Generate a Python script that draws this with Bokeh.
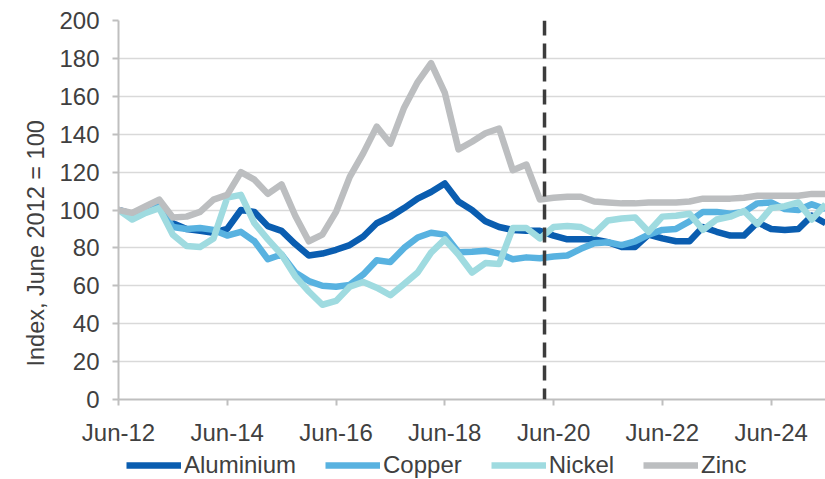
import pandas as pd
from bokeh.plotting import figure
from bokeh.layouts import column
from bokeh.models import (Range1d, Span, Legend, LegendItem, FixedTicker, Title,
                          SingleIntervalTicker, DatetimeTickFormatter, ColumnDataSource)
from bokeh.embed import file_html
from bokeh.resources import INLINE

# Quarterly observations, Jun-2012 to Jun-2025 (index, June 2012 = 100)
quarters = pd.date_range("2012-06-01", periods=53, freq="3MS")

aluminium = [100, 98, 100, 102, 93, 90, 89, 88, 90, 100,
             99, 91.5, 89, 82, 76, 77, 79, 81.5, 86, 93,
             96.5, 101, 106, 109.5, 114, 104.5, 100, 94, 91, 89.5,
             89, 89, 86.5, 84.5, 84.5, 84.5, 83, 80.5, 80.5, 87,
             85, 83.5, 83.5, 91, 88.5, 86.5, 86.5, 93.5, 90, 89.5,
             90, 97, 93]

copper = [100, 97.5, 100, 102, 91, 90, 90.5, 89.5, 86.5, 88.5,
          83.5, 74, 76.5, 67, 62.5, 60, 59.5, 60.5, 66, 73.5,
          72.5, 80, 85.5, 88, 87, 77.7, 78, 78.5, 77, 74,
          75, 74.5, 75.5, 76, 79.5, 82.5, 83, 81.5, 83.5, 87,
          89.5, 90, 94, 99, 99, 98, 99, 103.5, 104, 100.5,
          100, 103, 100.5]

nickel = [100, 95, 98.5, 101, 87, 81, 80.5, 85, 106.5, 108,
          93, 84.5, 76.5, 65, 57, 50, 52, 59.5, 62, 59,
          55, 61, 67, 77.5, 84.5, 76.5, 67, 72, 71.5, 90.5,
          90.5, 85, 91, 91.5, 91, 87.5, 94.5, 95.5, 96, 88.5,
          96.5, 97, 98, 89.5, 95, 96.5, 99.5, 92.5, 101, 102,
          104, 95, 103]

zinc = [100, 98.5, 102, 105.5, 96, 96.5, 99, 105.5, 108, 120,
        116, 108.5, 113.5, 97, 83.5, 87, 99, 117.5, 130, 144,
        135, 154, 167.5, 177.5, 162, 132, 136, 140.5, 143, 121,
        124, 105.5, 106.5, 107, 107, 104.5, 104, 103.5, 103.5, 104,
        104, 104, 104.5, 106, 106, 106, 106.5, 107.5, 107.5, 107.5,
        107.5, 108.5, 108.5]

series_names = ["Aluminium", "Copper", "Nickel", "Zinc"]
series_colors = ["#0A5DB0", "#58B2E0", "#9FDBE0", "#BCBEC0"]
tick_dates = ["2012-06-01", "2014-06-01", "2016-06-01", "2018-06-01",
              "2020-06-01", "2022-06-01", "2024-06-01"]
forecast_start = "2020-04-01"
y_title = "Index, June 2012 = 100"

FONT = "Liberation Sans"
TEXT = "#404040"
LINE_W = 6.5

source = ColumnDataSource(dict(date=quarters, Aluminium=aluminium, Copper=copper,
                               Nickel=nickel, Zinc=zinc))

p = figure(width=825, height=448, x_axis_type="datetime",
           x_range=Range1d(pd.Timestamp("2012-06-01"), pd.Timestamp("2025-06-01")),
           y_range=Range1d(0, 200),
           output_backend="svg", toolbar_location=None,
           min_border_left=118, min_border_right=0, min_border_top=20,
           min_border_bottom=47)
p.outline_line_color = None
p.background_fill_color = "white"

# axes
p.xaxis.ticker = FixedTicker(ticks=[pd.Timestamp(d).value / 1e6 for d in tick_dates])
p.xaxis.formatter = DatetimeTickFormatter(days="%b-%y", months="%b-%y", years="%b-%y")
p.yaxis.ticker = SingleIntervalTicker(interval=20)
for ax in (p.xaxis[0], p.yaxis[0]):
    ax.axis_line_color = "#BFBFBF"
    ax.axis_line_width = 2
    ax.major_tick_line_color = "#BFBFBF"
    ax.major_tick_line_width = 2
    ax.major_tick_out = 6
    ax.major_tick_in = 0
    ax.minor_tick_line_color = None
    ax.major_label_text_font = FONT
    ax.major_label_text_font_size = "24px"
    ax.major_label_text_color = TEXT
    ax.major_label_standoff = 13

# vertical y-axis title, anchored toward the bottom of the axis
p.add_layout(Title(text=y_title, align="left", offset=33, standoff=15,
                   text_font=FONT, text_font_size="23.5px", text_font_style="normal",
                   text_color=TEXT), "left")

p.xgrid.grid_line_color = None
p.ygrid.grid_line_color = "#D9D9D9"
p.ygrid.grid_line_width = 1.5

# series
for name, color in zip(series_names, series_colors):
    p.line("date", name, source=source, line_color=color, line_width=LINE_W,
           line_join="round")

# start of forecast period
p.add_layout(Span(location=pd.Timestamp(forecast_start).value / 1e6, dimension="height",
                  line_color="#3C3C3C", line_width=3.5, line_dash="15 8"))

# legend strip under the chart (its frame lines up with the chart frame)
lg = figure(width=825, height=31, output_backend="svg", toolbar_location=None,
            x_axis_location=None, y_axis_location=None,
            min_border_left=0, min_border_right=0, min_border_top=0, min_border_bottom=0)
lg.outline_line_color = None
lg.xgrid.visible = False
lg.ygrid.visible = False
swatches = [lg.line(x=[0], y=[0], line_color=c, line_width=LINE_W) for c in series_colors]
legend = Legend(items=[LegendItem(label=n, renderers=[r]) for n, r in zip(series_names, swatches)],
                orientation="horizontal", location=(8, 0),
                glyph_width=55, glyph_height=22, label_standoff=3, spacing=29,
                padding=0, margin=0, border_line_color=None, background_fill_alpha=0,
                label_text_font=FONT, label_text_font_size="24px", label_text_color=TEXT)
lg.add_layout(legend, "center")

open("out.html", "w").write(file_html(column(p, lg, spacing=0), INLINE))
